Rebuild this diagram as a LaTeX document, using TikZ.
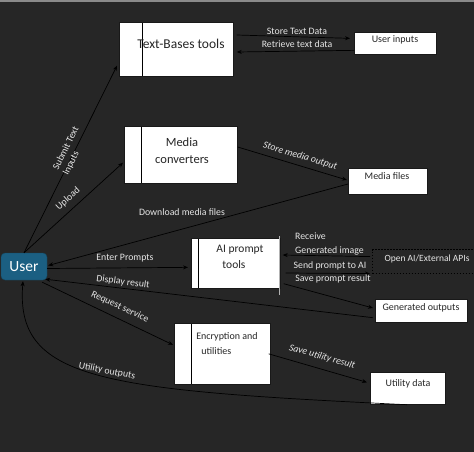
\documentclass[tikz,border=0pt]{standalone}
\usepackage{fontspec}
\setmainfont{Carlito}
\usetikzlibrary{arrows.meta,calc}
\definecolor{bg}{HTML}{262626}
\definecolor{topline}{HTML}{8A8A8A}
\definecolor{userblue}{HTML}{1B5F82}
\definecolor{lbltext}{HTML}{E6E6E6}
\begin{document}
\begin{tikzpicture}[x=1pt,y=-1pt,
  box/.style={draw=black!90, fill=white, line width=0.7pt, inner sep=0pt, anchor=north west},
  div/.style={path picture={\draw[line width=0.8pt,black] ([xshift=#1]path picture bounding box.north west) -- ([xshift=#1]path picture bounding box.south west);}},
  ttl/.style={text=black!85, inner sep=0pt, align=center},
  lbl/.style={text=lbltext, inner sep=0pt, font=\fontsize{9.8}{11}\selectfont},
  conn/.style={draw=black, line width=0.7pt, -{Stealth[length=5pt,width=4pt]}},
]
\fill[bg] (0,0) rectangle (474,452);
\fill[topline] (0,0) rectangle (474,2);
\useasboundingbox (0,0) rectangle (474,452);

% boxes
\node[box, minimum width=114pt, minimum height=54pt, div=23pt] (tbt) at (119,22) {};
\node[ttl, font=\fontsize{13.5}{15}\selectfont] (tbtT) at (181,44) {Text-Bases tools};

\node[box, minimum width=82pt, minimum height=22pt] (ui) at (354,32) {};
\node[ttl, font=\fontsize{10}{12}\selectfont] (uiT) at (395,40) {User inputs};

\node[box, minimum width=113pt, minimum height=57pt, div=17pt] (mc) at (124,126) {};
\node[ttl, font=\fontsize{12.5}{17}\selectfont] (mcT) at (182,151) {Media\\converters};

\node[box, minimum width=79pt, minimum height=26pt] (mf) at (348,168) {};
\node[ttl, font=\fontsize{10}{12}\selectfont] (mfT) at (387,176) {Media files};

\node[box, minimum width=89pt, minimum height=50pt, div=7pt] (ai) at (191,238) {};
\node[ttl, align=left, font=\fontsize{11.5}{16}\selectfont] (aiT) at (240,257) {AI prompt\\\hspace{6pt}tools};

\node[box, minimum width=96pt, minimum height=61pt, div=17pt] (en) at (174,323) {};
\node[ttl, align=left, font=\fontsize{10}{15}\selectfont] (enT) at (227,344) {Encryption and\\\hspace{5pt}utilities};

\node[box, minimum width=92pt, minimum height=23pt] (go) at (375,299) {};
\node[ttl, font=\fontsize{10}{12}\selectfont] (goT) at (421,308) {Generated outputs};

\node[box, minimum width=75pt, minimum height=32pt] (ud) at (370,372) {};
\node[ttl, font=\fontsize{10}{12}\selectfont] (udT) at (408,384) {Utility data};

\node[draw=black, line width=1.2pt, dash pattern=on 1.5pt off 1.5pt, fill=bg, inner sep=0pt, anchor=north west, minimum width=104pt, minimum height=24pt] (oa) at (372,249) {};
\node[lbl, font=\fontsize{9.5}{11}\selectfont] (oaT) at (427,259) {Open AI/External APIs};

\node[fill=userblue, draw=userblue!75!black, rounded corners=4pt, minimum width=46pt, minimum height=27pt, text=white, font=\fontsize{15.5}{16}\selectfont, inner sep=0pt] (user) at (24,266.5) {User};

\draw[gray!60, line width=1pt] ($(ai.north east)+(-1,-2)$) -- ($(ai.south east)+(-1,6)$);

% connectors
\draw[conn] ($(tbt.north east)+(3,13)$) -- ($(ui.west)+(-4,-5)$);
\draw[conn] ($(ui.west)+(0,7)$) -- ($(tbt.north east)+(3,30)$);
\node[lbl] (l1) at (297,31) {Store Text Data};
\node[lbl] (l2) at (297,44) {Retrieve text data};

\draw[conn] (user.north) -- ($(tbt.south west)+(-2,-11)$);
\node[lbl, rotate=63.6, align=left] (l3) at (71,151) {Submit Text\\Inputs};

\draw[conn] (user.north) -- ($(mc.south west)+(-1,-21)$);
\node[lbl, rotate=42] (l4) at (68,199) {Upload};

\draw[conn] ($(mc.north east)+(0,21)$) -- ($(mf.north west)+(-1,12)$);
\node[lbl, rotate=-16.7, font=\fontsize{9.8}{11}\selectfont\itshape] (l5) at (300,156) {Store media output};

\draw[conn] ($(mf.north west)+(0,16)$) -- ($(user.east)+(1,-1)$);
\node[lbl] (l6) at (182,212) {Download media files};

\draw[conn] ($(user.east)+(0,2)$) -- ($(ai.west)+(-3,4)$);
\node[lbl] (l7) at (125,258) {Enter Prompts};

\draw[conn] ($(oa.west)+(-2,-5)$) -- ($(ai.north east)+(2,17)$);
\node[lbl, anchor=west] (l8) at (295,236) {Receive};
\node[lbl, anchor=west] (l9) at (295,251) {Generated image};

\draw[conn] ($(ai.north east)+(5,35)$) -- ($(oa.west)+(-2,12)$);
\node[lbl] (l10) at (330,266) {Send prompt to AI};

\draw[conn] ($(ai.south east)+(3,-5)$) -- ($(go.north west)+(-2,9)$);
\node[lbl] (l11) at (333,279) {Save prompt result};

\draw[conn] ($(go.south west)+(-2,-5)$) -- ($(user.south east)+(-2,-1)$);
\node[lbl, rotate=-7.5] (l12) at (123,282) {Display result};

\draw[conn] ($(user.south east)+(-5,2)$) -- ($(en.west)+(-1,-9)$);
\node[lbl, rotate=-25.3] (l13) at (120,307) {Request service};

\draw[conn] ($(en.east)+(-2,0)$) -- ($(ud.west)+(-3,-6)$);
\node[lbl, rotate=-16, font=\fontsize{9.8}{11}\selectfont\itshape] (l14) at (322,357) {Save utility result};

\draw[conn] ($(ud.south west)+(37,0)$) .. controls (100,390) and (15,380) .. ($(user.south)+(-1,1)$);
\node[lbl, rotate=-11] (l15) at (107,371) {Utility outputs};
\end{tikzpicture}
\end{document}
